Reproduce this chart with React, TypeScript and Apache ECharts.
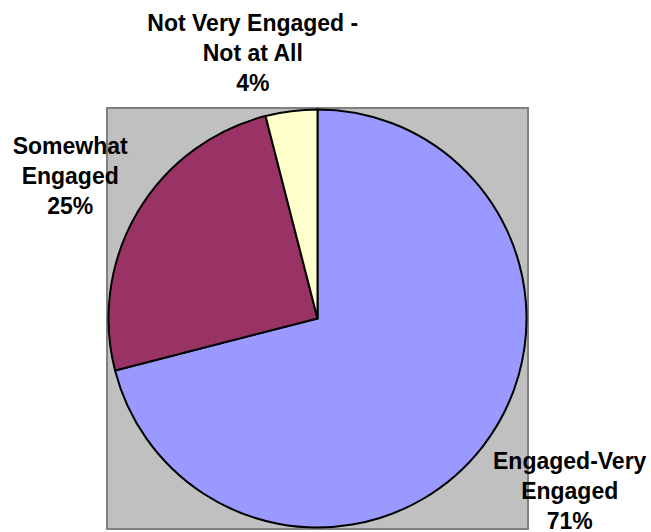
import React, { useEffect, useRef } from "react";
import * as echarts from "echarts";

// Data
const categories = ["Engaged-Very\nEngaged", "Somewhat\nEngaged", "Not Very Engaged -\nNot at All"];
const values = [71, 25, 4];
const colors = ["#9999FF", "#993366", "#FFFFCC"];

// Layout / style (not data)
const CX = 317.5;
const CY = 318.5;
const R = 209;
const LABEL_DIST = 285;
const labelNudge: [number, number][] = [
  [27, -2],
  [-2, 3],
  [-29, 17],
];

export default function App() {
  const ref = useRef<HTMLDivElement>(null);
  useEffect(() => {
    if (!ref.current) return;
    const chart = echarts.init(ref.current, undefined, { renderer: "svg" });
    const total = values.reduce((a, b) => a + b, 0);
    const midAngles: number[] = [];
    let acc = 0;
    values.forEach((v) => {
      midAngles.push(((acc + v / 2) / total) * Math.PI * 2);
      acc += v;
    });
    chart.setOption({
      animation: false,
      backgroundColor: "#FFFFFF",
      graphic: [
        {
          type: "rect",
          z: -10,
          shape: { x: CX - R - 1.5, y: CY - R - 1.5, width: 2 * R + 3, height: 2 * R + 3 },
          style: { fill: "#C0C0C0", stroke: "#808080", lineWidth: 2 },
          silent: true,
        },
      ],
      series: [
        {
          type: "pie",
          center: [CX, CY],
          radius: R,
          startAngle: 90,
          clockwise: true,
          data: categories.map((name, i) => ({
            name,
            value: values[i],
            itemStyle: { color: colors[i] },
          })),
          itemStyle: { borderColor: "#000000", borderWidth: 2 },
          emphasis: { disabled: true },
          labelLine: { show: false },
          label: {
            show: true,
            position: "outside",
            overflow: "none",
            formatter: (p: any) => `${p.name}\n${Math.round(p.percent)}%`,
            fontFamily: 'Arial, "Liberation Sans", sans-serif',
            fontWeight: "bold",
            fontSize: 23,
            lineHeight: 30,
            color: "#000000",
            align: "center",
          },
          labelLayout: (params: any) => {
            const i = params.dataIndex;
            const a = midAngles[i];
            return {
              x: CX + LABEL_DIST * Math.sin(a) + labelNudge[i][0],
              y: CY - LABEL_DIST * Math.cos(a) + labelNudge[i][1],
              align: "center",
              verticalAlign: "middle",
            };
          },
        },
      ],
    });
    return () => chart.dispose();
  }, []);
  return (
    <div
      ref={ref}
      style={{ position: "fixed", left: 0, top: 0, width: 651, height: 532 }}
    />
  );
}
